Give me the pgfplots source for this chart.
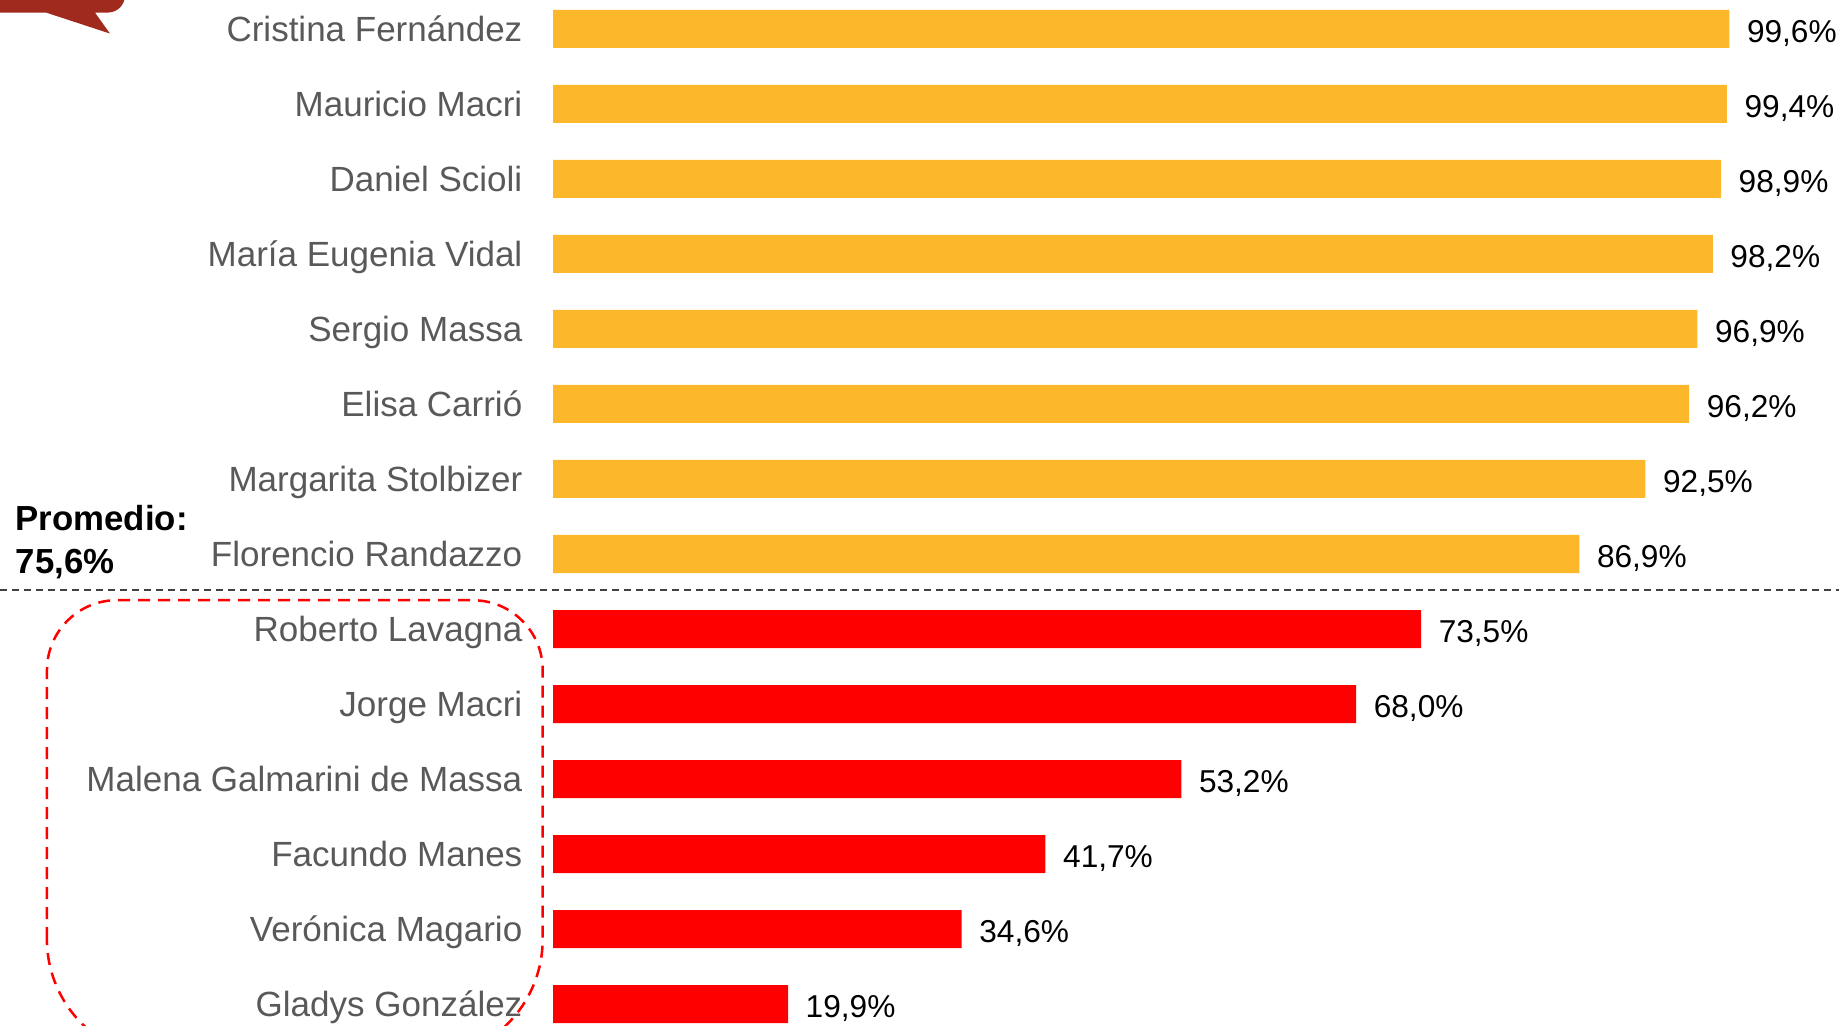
\documentclass[border=0pt]{standalone}
\usepackage{fontspec}
\setmainfont{Liberation Sans}
\usepackage{pgfplots}
\pgfplotsset{compat=1.18}

\definecolor{barorange}{RGB}{253,183,43}
\definecolor{barred}{RGB}{255,0,0}
\definecolor{labgray}{RGB}{89,89,89}
\definecolor{bubble}{RGB}{160,42,30}

\newcommand{\labfont}{\fontsize{9.96pt}{12pt}\selectfont}
\newcommand{\valfont}{\fontsize{9pt}{11pt}\selectfont}

\begin{document}
\begin{tikzpicture}
\useasboundingbox (0,0) rectangle (18.4cm,10.26cm);
\clip (0,0) rectangle (18.4cm,10.26cm);

\begin{axis}[
    at={(5.53cm,-0.155cm)}, anchor=south west,
    width=11.81cm, height=10.5cm, scale only axis,
    xmin=0, xmax=100, ymin=-0.5, ymax=13.5, y dir=reverse,
    hide x axis,
    axis y line*=left,
    y axis line style={draw=none},
    ytick={0,...,13},
    ytick style={draw=none},
    yticklabels={Cristina Fernández, Mauricio Macri, Daniel Scioli, María Eugenia Vidal,
        Sergio Massa, Elisa Carrió, Margarita Stolbizer, Florencio Randazzo,
        Roberto Lavagna, Jorge Macri, Malena Galmarini de Massa, Facundo Manes,
        Verónica Magario, Gladys González},
    yticklabel style={font=\labfont, text=labgray, inner sep=0pt, anchor=base east, xshift=-0.15cm, yshift=-0.127cm},
    xbar, bar width=0.38cm,
    nodes near coords, point meta=explicit symbolic,
    nodes near coords style={font=\valfont, text=black, inner sep=0pt, anchor=base west, xshift=0.17cm, yshift=-0.137cm},
    clip=false,
]
\addplot[fill=barorange, draw=none, bar shift=0pt] coordinates {
    (99.6,0) [99,6\%]
    (99.4,1) [99,4\%]
    (98.9,2) [98,9\%]
    (98.2,3) [98,2\%]
    (96.9,4) [96,9\%]
    (96.2,5) [96,2\%]
    (92.5,6) [92,5\%]
    (86.9,7) [86,9\%]
};
\addplot[fill=barred, draw=none, bar shift=0pt] coordinates {
    (73.5,8) [73,5\%]
    (68.0,9) [68,0\%]
    (53.2,10) [53,2\%]
    (41.7,11) [41,7\%]
    (34.6,12) [34,6\%]
    (19.9,13) [19,9\%]
};
\end{axis}

% annotations, in pixel units of the 1840x1026 reference
\begin{scope}[x=0.01cm, y=0.01cm]
  % separator line
  \draw[black!75, line width=0.02cm, dash pattern=on 0.07cm off 0.05cm] (0,436) -- (1840,436);
  % rounded dashed box around the lower group
  \draw[barred, line width=0.025cm, dash pattern=on 0.12cm off 0.08cm]
    (47,87) -- (47,356) arc[start angle=180, end angle=90, radius=0.7cm]
    -- (473,426) arc[start angle=90, end angle=0, radius=0.7cm]
    -- (543,87) arc[start angle=0, end angle=-90, radius=1.2cm]
    -- (167,-33) arc[start angle=270, end angle=180, radius=1.2cm] -- cycle;
  % speech bubble in the corner
  \fill[bubble] (0,1040) -- (0,1014) -- (46,1014) -- (110,993) -- (95,1014) -- (108,1014)
    arc[start angle=-90, end angle=0, radius=0.17cm] -- (125,1040) -- cycle;
  % average
  \node[anchor=base west, inner sep=0pt, font=\fontsize{9.9pt}{12pt}\selectfont\bfseries] at (15,496) {Promedio:};
  \node[anchor=base west, inner sep=0pt, font=\fontsize{9.9pt}{12pt}\selectfont\bfseries] at (15,453) {75,6\%};
\end{scope}
\end{tikzpicture}
\end{document}
